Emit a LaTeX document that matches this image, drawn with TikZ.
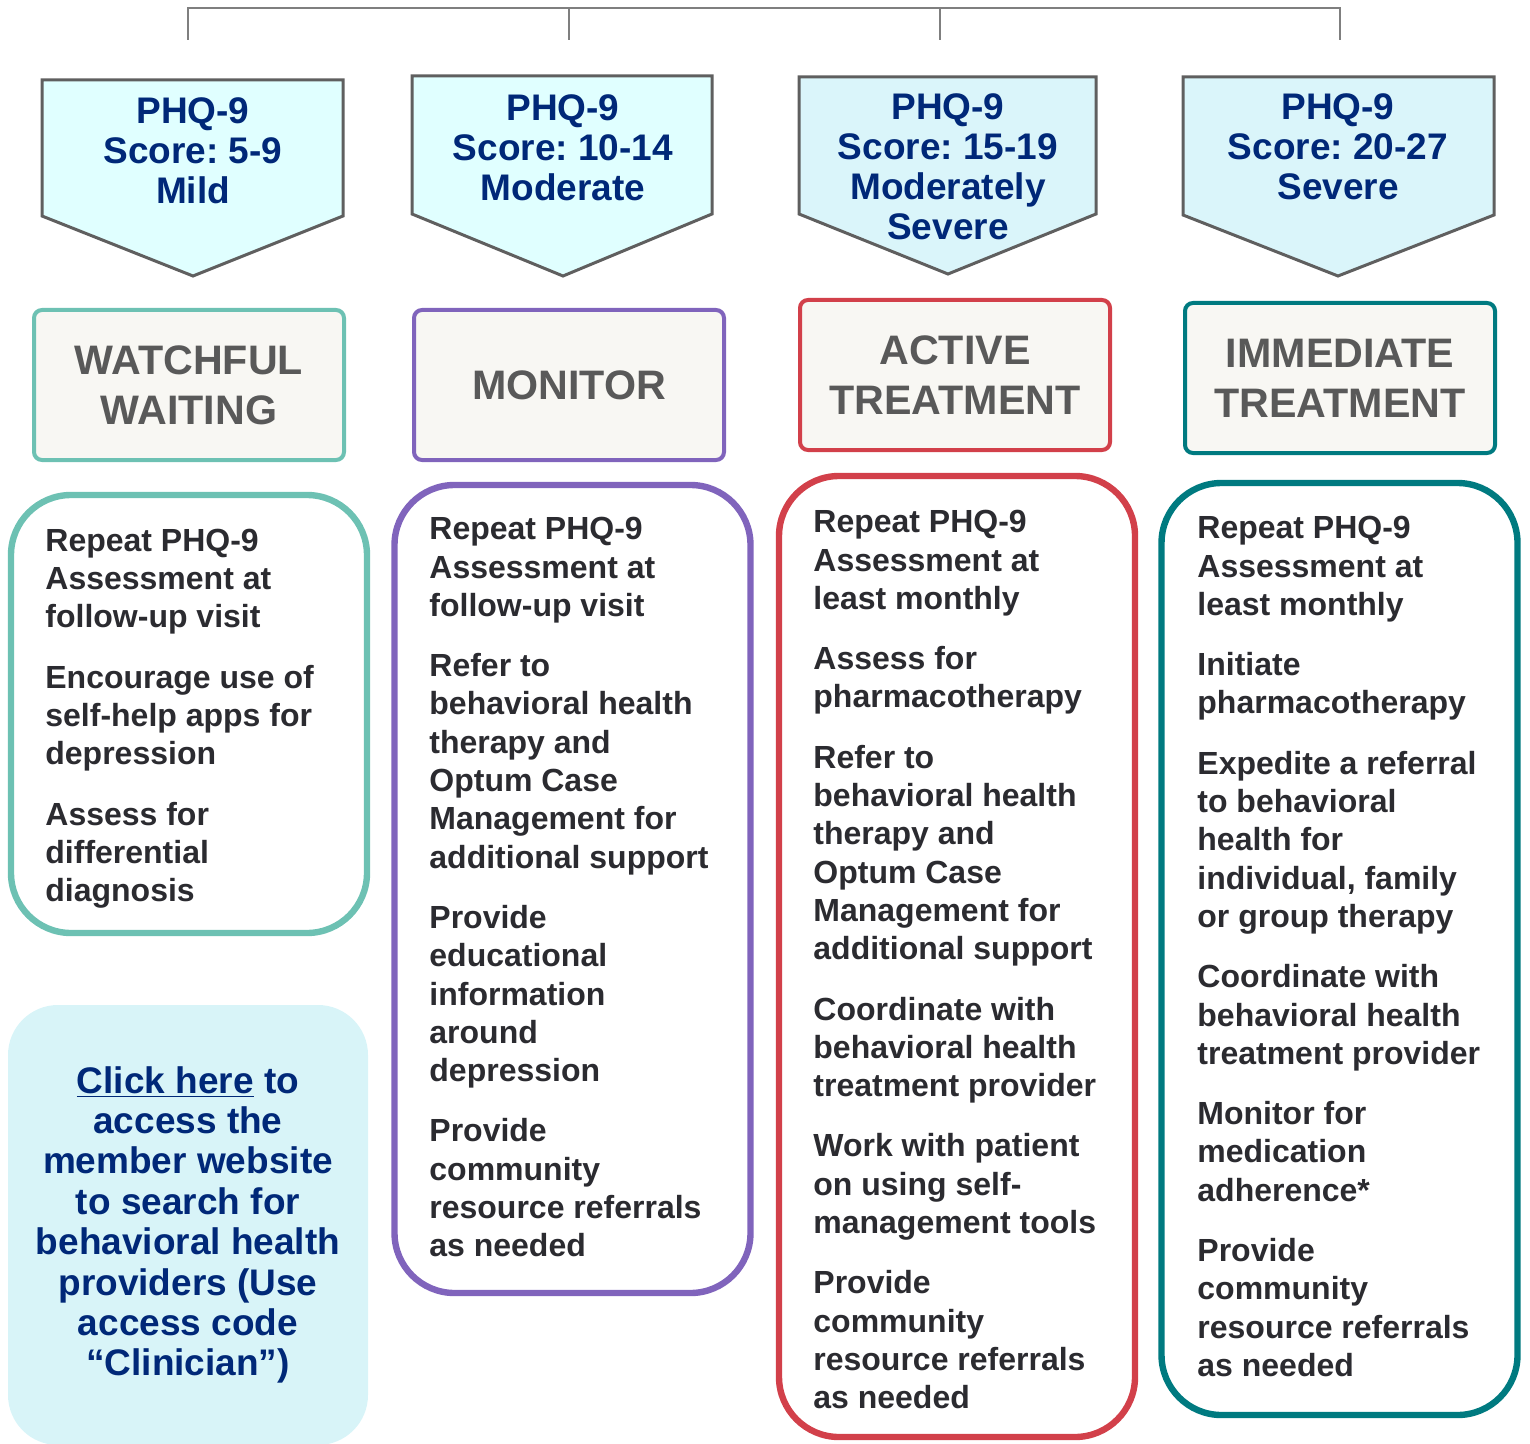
\documentclass[tikz,border=0pt]{standalone}
\usepackage{fontspec}
\setmainfont{Liberation Sans}
\usepackage{tikz}
\usetikzlibrary{
  positioning,
  calc
}
\frenchspacing
\definecolor{treecolor}{RGB}{127, 127, 127}
\definecolor{scoreborder}{RGB}{95, 95, 95}
\definecolor{scorefilla}{RGB}{224, 255, 255}
\definecolor{scorefillb}{RGB}{218, 245, 250}
\definecolor{scoretextcolor}{RGB}{0, 40, 120}
\definecolor{stagefill}{RGB}{248, 247, 243}
\definecolor{stagetextcolor}{RGB}{89, 89, 89}
\definecolor{watchcolor}{RGB}{109, 193, 179}
\definecolor{monitorcolor}{RGB}{128, 100, 188}
\definecolor{activecolor}{RGB}{210, 64, 74}
\definecolor{immediatecolor}{RGB}{0, 122, 128}
\definecolor{stepstextcolor}{RGB}{43, 43, 48}
\definecolor{linkfill}{RGB}{216, 244, 248}
\tikzset{
treeline/.style={
  draw=treecolor,
  line width=0.75pt
},
scoreshape/.style={
  draw=scoreborder,
  line width=1.5pt,
  line join=miter
},
scoretext/.style={
  align=center,
  inner sep=0pt,
  font=\bfseries\fontsize{18.5}{20}\selectfont,
  text=scoretextcolor
},
stagebox/.style={
  draw,
  rounded corners=4pt,
  line width=2pt,
  fill=stagefill,
  minimum width=155pt,
  minimum height=75pt,
  inner sep=0pt,
  align=center,
  font=\bfseries\fontsize{20.6}{25}\selectfont,
  text=stagetextcolor
},
stepsbox/.style={
  draw,
  rounded corners=30pt,
  line width=3.2pt,
  minimum width=178pt,
  inner sep=0pt
},
stepstext/.style={
  anchor=north west,
  align=left,
  inner sep=0pt,
  font=\bfseries\fontsize{16}{19.15}\selectfont,
  text=stepstextcolor
},
linkbox/.style={
  fill=linkfill,
  rounded corners=25pt,
  minimum width=180pt,
  minimum height=220pt,
  inner sep=0pt,
  align=center,
  font=\bfseries\fontsize{18.5}{20.2}\selectfont,
  text=scoretextcolor
}
}
\begin{document}
\begin{tikzpicture}[x=0.5pt, y=-0.5pt]
\useasboundingbox (0,0) rectangle (1530,1444);

% connector bar on top
\coordinate (bar1) at (188,8);
\coordinate (bar2) at (569,8);
\coordinate (bar3) at (940,8);
\coordinate (bar4) at (1340,8);
\coordinate (top1) at (188,40);
\coordinate (top2) at (569,40);
\coordinate (top3) at (940,40);
\coordinate (top4) at (1340,40);
\draw[treeline] (top1) -- (bar1) -- (bar4) -- (top4);
\draw[treeline] (top2) -- (bar2);
\draw[treeline] (top3) -- (bar3);

% score arrows
\draw[scoreshape, fill=scorefilla] (42,80) -- (343,80) -- (343,216) -- (193,276) -- (42,216) -- cycle;
\draw[scoreshape, fill=scorefilla] (412,76) -- (712,76) -- (712,214) -- (563,276) -- (412,214) -- cycle;
\draw[scoreshape, fill=scorefillb] (799,77) -- (1096,77) -- (1096,214) -- (948,274) -- (799,214) -- cycle;
\draw[scoreshape, fill=scorefillb] (1183,77) -- (1494,77) -- (1494,215) -- (1338,276) -- (1183,215) -- cycle;
\node[scoretext] (score1) at (193,151) {PHQ-9\\Score: 5-9\\Mild};
\node[scoretext] (score2) at (563,148) {PHQ-9\\Score: 10-14\\Moderate};
\node[scoretext] (score3) at (948,167) {PHQ-9\\Score: 15-19\\Moderately\\Severe};
\node[scoretext] (score4) at (1338,147) {PHQ-9\\Score: 20-27\\Severe};

% stage labels
\node[stagebox, draw=watchcolor] (stage1) at (189,385) {WATCHFUL\\WAITING};
\node[stagebox, draw=monitorcolor] (stage2) at (569,385) {MONITOR};
\node[stagebox, draw=activecolor] (stage3) at (955,375) {ACTIVE\\TREATMENT};
\node[stagebox, draw=immediatecolor] (stage4) at (1340,378) {IMMEDIATE\\TREATMENT};

% next steps
\node[stepsbox, draw=watchcolor, minimum height=219pt] (steps1) at (189,714) {};
\node[stepsbox, draw=monitorcolor, minimum height=404pt] (steps2) at (572.5,889) {};
\node[stepsbox, draw=activecolor, minimum height=480.5pt] (steps3) at (957,956.5) {};
\node[stepsbox, draw=immediatecolor, minimum height=466pt] (steps4) at (1339.5,949) {};

\node[stepstext] (list1) at (45,528.5) {Repeat PHQ-9\\Assessment at\\follow-up visit\\[11pt]Encourage use of\\self-help apps for\\depression\\[11pt]Assess for\\differential\\diagnosis};
\node[stepstext] (list2) at (429,517) {Repeat PHQ-9\\Assessment at\\follow-up visit\\[11pt]Refer to\\behavioral health\\therapy and\\Optum Case\\Management for\\additional support\\[11pt]Provide\\educational\\information\\around\\depression\\[11pt]Provide\\community\\resource referrals\\as needed};
\node[stepstext] (list3) at (813,510) {Repeat PHQ-9\\Assessment at\\least monthly\\[11pt]Assess for\\pharmacotherapy\\[11pt]Refer to\\behavioral health\\therapy and\\Optum Case\\Management for\\additional support\\[11pt]Coordinate with\\behavioral health\\treatment provider\\[11pt]Work with patient\\on using self-\\management tools\\[11pt]Provide\\community\\resource referrals\\as needed};
\node[stepstext] (list4) at (1197,516) {Repeat PHQ-9\\Assessment at\\least monthly\\[11pt]Initiate\\pharmacotherapy\\[11pt]Expedite a referral\\to behavioral\\health for\\individual, family\\or group therapy\\[11pt]Coordinate with\\behavioral health\\treatment provider\\[11pt]Monitor for\\medication\\adherence*\\[11pt]Provide\\community\\resource referrals\\as needed};

% member website
\node[linkbox] (website) at (188,1225) {\underline{Click here} to\\access the\\member website\\to search for\\behavioral health\\providers (Use\\access code\\“Clinician”)};
\end{tikzpicture}
\end{document}
